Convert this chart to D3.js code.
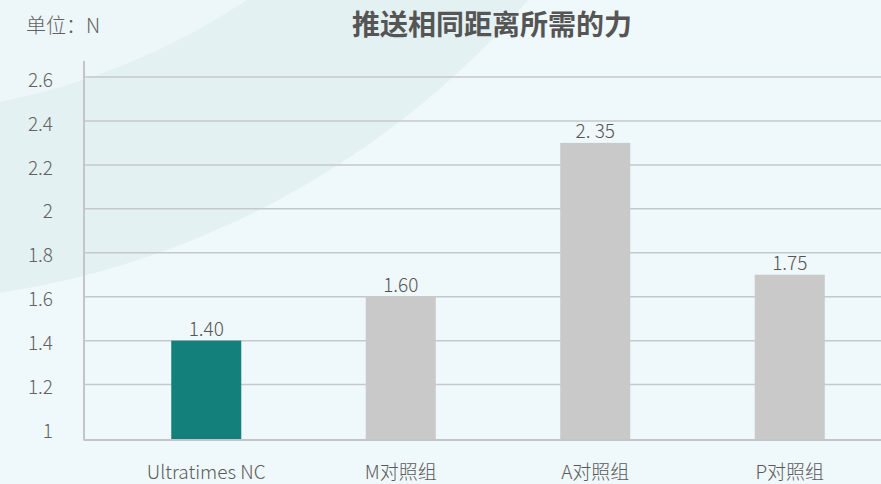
<!DOCTYPE html>
<html><head><meta charset="utf-8">
<script src="https://cdn.jsdelivr.net/npm/d3@7"></script>
<style>
html,body{margin:0;padding:0;background:#eff8fb;overflow:hidden;}
svg{display:block;}
</style></head>
<body>
<script>
const categories = ["Ultratimes NC", "M对照组", "A对照组", "P对照组"];
const barValues = [1.40, 1.60, 2.30, 1.70];
const valueLabels = ["1.40", "1.60", "2. 35", "1.75"];
const barColors = ["#14807c", "#c9c9c9", "#c9c9c9", "#c9c9c9"];
const yTicks = [1, 1.2, 1.4, 1.6, 1.8, 2, 2.2, 2.4, 2.6];
const yTickLabels = ["1", "1.2", "1.4", "1.6", "1.8", "2", "2.2", "2.4", "2.6"];
const title = "推送相同距离所需的力";
const unitLabel = "单位：N";

const W = 881, H = 484;
const font = "'Noto Sans CJK SC','Noto Sans',sans-serif";
const svg = d3.select("body").append("svg").attr("width", W).attr("height", H);

// background with faint ring
svg.append("rect").attr("width", W).attr("height", H).attr("fill", "#eff8fb");
const cx = -133, cy = -570;
svg.append("circle").attr("cx", cx).attr("cy", cy).attr("r", 873).attr("fill", "#e3f1f3");
svg.append("circle").attr("cx", cx).attr("cy", cy).attr("r", 685).attr("fill", "#edf7f9");

const x = d3.scaleBand().domain(categories).range([109, 887]).paddingInner(0.64).paddingOuter(0.32);
const y = d3.scaleLinear().domain([0.95, 2.6]).range([439.5, 77]);
const baseY = y.range()[0];
const axisX = 84;

// gridlines
svg.append("g").selectAll("line").data(yTicks.filter(t => t > 1)).join("line")
  .attr("x1", axisX).attr("x2", W).attr("y1", d => y(d)).attr("y2", d => y(d))
  .attr("stroke", "#c6c9cb").attr("stroke-width", 1.5);

// bars
svg.append("g").selectAll("rect").data(categories).join("rect")
  .attr("x", d => x(d)).attr("width", x.bandwidth())
  .attr("y", (d, i) => y(barValues[i])).attr("height", (d, i) => baseY - y(barValues[i]))
  .attr("fill", (d, i) => barColors[i]);

// axes lines
svg.append("line").attr("x1", axisX).attr("x2", axisX).attr("y1", 61).attr("y2", baseY + 1)
  .attr("stroke", "#c3c5c7").attr("stroke-width", 2);
svg.append("line").attr("x1", axisX).attr("x2", W).attr("y1", baseY + 0.5).attr("y2", baseY + 0.5)
  .attr("stroke", "#c3c5c7").attr("stroke-width", 2);

// y tick labels
svg.append("g").selectAll("text").data(yTicks).join("text")
  .attr("x", 53).attr("y", d => y(d) + 3).attr("dy", "0.35em")
  .attr("text-anchor", "end").attr("font-family", font).attr("font-size", 19)
  .attr("font-weight", 300).attr("fill", "#626262")
  .text((d, i) => yTickLabels[i]);

// value labels
svg.append("g").selectAll("text").data(categories).join("text")
  .attr("x", d => x(d) + x.bandwidth() / 2).attr("y", (d, i) => y(barValues[i]) - 5)
  .attr("text-anchor", "middle").attr("font-family", font).attr("font-size", 19)
  .attr("font-weight", 300).attr("fill", "#555")
  .text((d, i) => valueLabels[i]);

// category labels
svg.append("g").selectAll("text").data(categories).join("text")
  .attr("x", d => x(d) + x.bandwidth() / 2).attr("y", 479)
  .attr("text-anchor", "middle").attr("font-family", font).attr("font-size", 19)
  .attr("font-weight", 300).attr("fill", "#5a5a5a")
  .text(d => d);

// title
svg.append("text").attr("x", 492).attr("y", 25).attr("dy", "0.35em")
  .attr("text-anchor", "middle").attr("font-family", font).attr("font-size", 28)
  .attr("font-weight", 700).attr("fill", "#555").text(title);

// unit
svg.append("text").attr("x", 26).attr("y", 26).attr("dy", "0.35em")
  .attr("font-family", font).attr("font-size", 20).attr("font-weight", 300)
  .attr("fill", "#626262").text(unitLabel);
</script>
</body></html>
